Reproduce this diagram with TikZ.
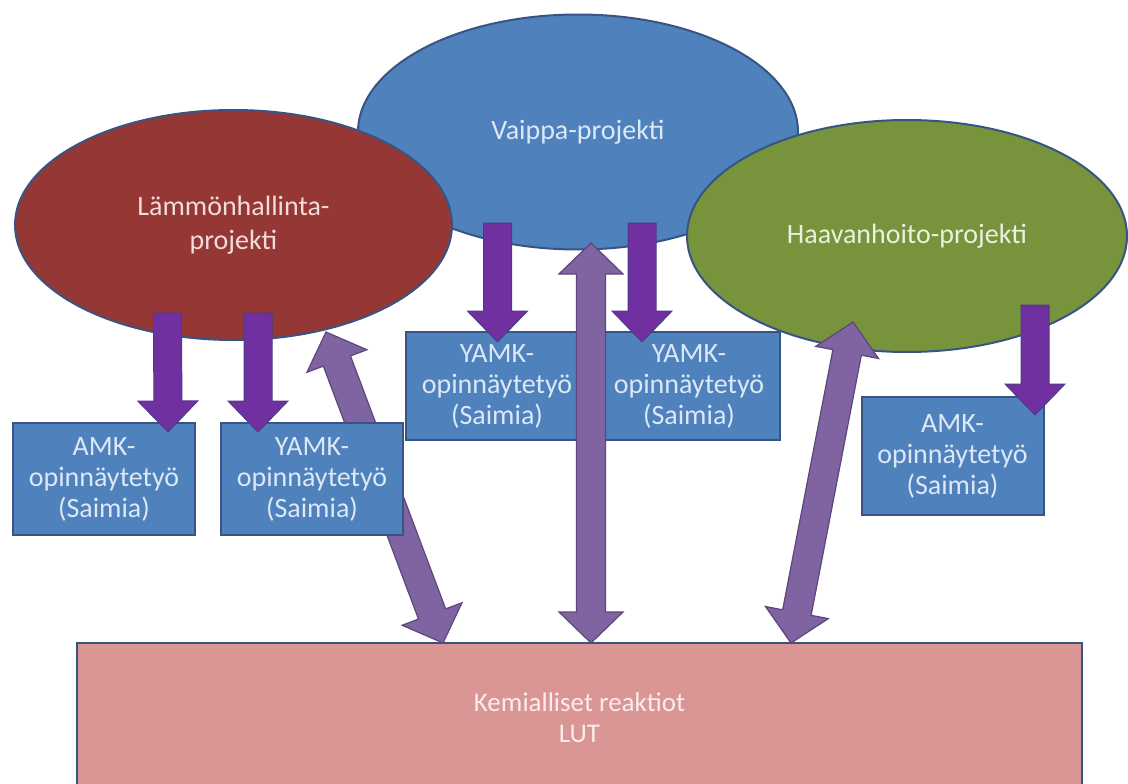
\documentclass[tikz,border=0pt]{standalone}
\usepackage{fontspec}
\setmainfont{Carlito}
\usetikzlibrary{shapes.geometric,calc}

\definecolor{redfill}{RGB}{149,55,53}
\definecolor{bluefill}{RGB}{79,129,189}
\definecolor{greenfill}{RGB}{119,147,60}
\definecolor{pinkfill}{RGB}{217,150,148}
\definecolor{edgeblue}{RGB}{56,84,130}
\definecolor{downpurple}{RGB}{112,48,160}
\definecolor{downedge}{RGB}{78,58,140}
\definecolor{twopurple}{RGB}{128,100,162}
\definecolor{twoedge}{RGB}{92,70,124}
\definecolor{redtext}{RGB}{242,220,219}
\definecolor{bluetext}{RGB}{220,232,246}
\definecolor{greentext}{RGB}{235,241,222}
\definecolor{pinktext}{RGB}{250,236,236}

\tikzset{
  project/.style={ellipse, draw=edgeblue, line width=2pt, inner sep=0pt,
    align=center, font=\fontsize{28}{34}\selectfont},
  thesis/.style={rectangle, draw=edgeblue, line width=2pt, fill=bluefill,
    text=bluetext, inner sep=0pt, minimum width=182pt, align=center,
    font=\fontsize{28}{31}\selectfont},
  base/.style={rectangle, draw=edgeblue, line width=2pt, fill=pinkfill,
    text=pinktext, inner sep=0pt, align=center,
    font=\fontsize{27}{31}\selectfont},
  downblock/.style={fill=downpurple, draw=downedge, line width=1pt},
  twowayblock/.style={fill=twopurple, draw=twoedge, line width=1.2pt},
}

% block arrow from shaft top #1 to tip #2
\newcommand\downarrowblock[2]{%
  \draw[downblock]
    ($(#1)!14pt!-90:(#2)$)
    -- ($(#2)!31pt!(#1)!14pt!90:(#1)$)
    -- ($(#2)!31pt!(#1)!30pt!90:(#1)$)
    -- (#2)
    -- ($(#2)!31pt!(#1)!30pt!-90:(#1)$)
    -- ($(#2)!31pt!(#1)!14pt!-90:(#1)$)
    -- ($(#1)!14pt!90:(#2)$) -- cycle;}

% block arrow with heads at both ends #1 and #2
\newcommand\twowayarrowblock[2]{%
  \draw[twowayblock]
    (#1)
    -- ($(#1)!31pt!(#2)!32pt!-90:(#2)$)
    -- ($(#1)!31pt!(#2)!14.5pt!-90:(#2)$)
    -- ($(#2)!31pt!(#1)!14.5pt!90:(#1)$)
    -- ($(#2)!31pt!(#1)!32pt!90:(#1)$)
    -- (#2)
    -- ($(#2)!31pt!(#1)!32pt!-90:(#1)$)
    -- ($(#2)!31pt!(#1)!14.5pt!-90:(#1)$)
    -- ($(#1)!31pt!(#2)!14.5pt!90:(#2)$)
    -- ($(#1)!31pt!(#2)!32pt!90:(#2)$) -- cycle;}

\begin{document}
\begin{tikzpicture}[x=1pt, y=-1pt]
  \useasboundingbox (0,0) rectangle (1128,784);
  \fill[white] (0,0) rectangle (1128,784);
  \clip (0,0) rectangle (1128,784);

  % projects
  \node[project, fill=bluefill, text=bluetext, minimum width=440pt, minimum height=235pt]
    (vaippa) at (578,132) {Vaippa-projekti};
  \node[project, fill=redfill, text=redtext, minimum width=437pt, minimum height=230pt]
    (lammon) at (233.5,225) {Lämmönhallinta-\\projekti};
  \node[project, fill=greenfill, text=greentext, minimum width=440pt, minimum height=232pt]
    (haava) at (907,236) {Haavanhoito-projekti};

  % chemistry base
  \node[base, minimum width=1005pt, minimum height=149pt] (kemia) at (579.5,717.5)
    {Kemialliset reaktiot\\LUT};

  % arrow ends
  \coordinate (l1) at (167.5,313);  \coordinate (t1) at (168,432);
  \coordinate (l2) at (258,313);    \coordinate (t2) at (258,432);
  \coordinate (v1) at (497.5,223);  \coordinate (t3) at (497.5,342);
  \coordinate (v2) at (642,223);    \coordinate (t4) at (642,342);
  \coordinate (h1) at (1035,305);   \coordinate (t5) at (1035,415);

  \coordinate (lt) at (326,332);    \coordinate (lb) at (443,643);
  \coordinate (vt) at (591,243);    \coordinate (vb) at (591,643);
  \coordinate (ht) at (853,322);    \coordinate (hb) at (791,643);

  % Lämmönhallinta <-> LUT runs behind the YAMK box beside it
  \twowayarrowblock{lt}{lb}

  % theses
  \node[thesis, minimum height=112pt] (amk1) at (104,479) {AMK-\\opinnäytetyö\\(Saimia)};
  \node[thesis, minimum height=112pt] (yamk1) at (312,479) {YAMK-\\opinnäytetyö\\(Saimia)};
  \node[thesis, minimum height=108pt] (yamk2) at (497,386) {YAMK-\\opinnäytetyö\\(Saimia)};
  \node[thesis, minimum height=108pt] (yamk3) at (689,386) {YAMK-\\opinnäytetyö\\(Saimia)};
  \node[thesis, minimum height=118pt] (amk2) at (952.5,456) {AMK-\\opinnäytetyö\\(Saimia)};

  % project to thesis
  \downarrowblock{l1}{t1}
  \downarrowblock{l2}{t2}
  \downarrowblock{v1}{t3}
  \downarrowblock{v2}{t4}
  \downarrowblock{h1}{t5}

  % project <-> chemistry base
  \twowayarrowblock{vt}{vb}
  \twowayarrowblock{ht}{hb}
\end{tikzpicture}
\end{document}
